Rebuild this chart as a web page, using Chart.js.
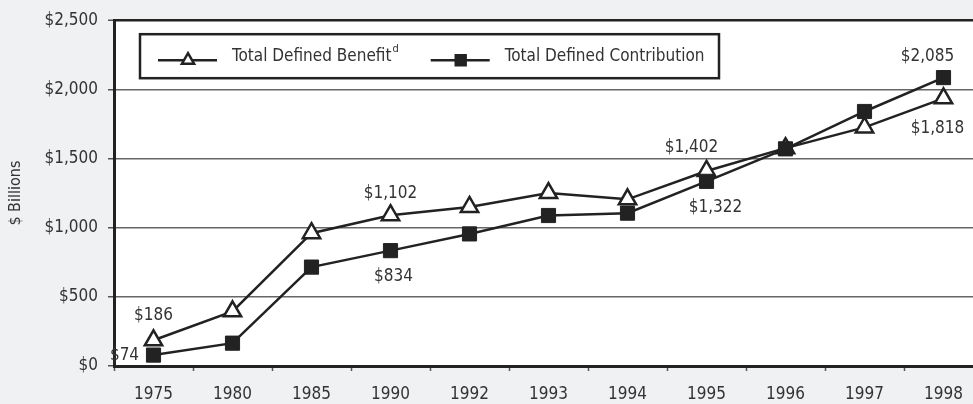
<!DOCTYPE html>
<html>
<head>
<meta charset="utf-8">
<script src="https://cdn.jsdelivr.net/npm/chart.js@4.4.1/dist/chart.umd.min.js"></script>
<style>
html, body { margin: 0; padding: 0; background: #f0f1f3; }
/* the plot runs on past the right edge of the picture in the original */
#clip { position: relative; width: 973px; height: 404px; overflow: hidden; }
#chart { display: block; width: 983px; height: 404px; }
</style>
</head>
<body>
<div id="clip"><canvas id="chart" width="983" height="404"></canvas></div>
<script>
const years = ['1975', '1980', '1985', '1990', '1992', '1993', '1994', '1995', '1996', '1997', '1998'];
const definedBenefit = [186, 395, 960, 1090, 1150, 1250, 1205, 1410, 1575, 1725, 1935];
const definedContribution = [79, 165, 715, 834, 955, 1088, 1105, 1335, 1570, 1840, 2085];
const yTicks = [0, 500, 1000, 1500, 2000, 2500];
// values printed next to some points in the original
const benefitNotes = ['$186', '', '', '$1,102', '', '', '', '$1,402', '', '', '$1,818'];
const contributionNotes = ['$74', '', '', '$834', '', '', '', '$1,322', '', '', '$2,085'];

const FONT = "'DejaVu Sans Condensed', 'DejaVu Sans', sans-serif";
const INK = '#222';
const TEXT = '#333';

function money(v) {
    return '$' + v.toLocaleString('en-US');
}

// white plot area on the grey page
const plotBg = {
    id: 'plotBg',
    beforeDraw(chart) {
        const a = chart.chartArea;
        chart.ctx.save();
        chart.ctx.fillStyle = '#fff';
        chart.ctx.fillRect(a.left, a.top, a.right - a.left, a.bottom - a.top);
        chart.ctx.restore();
    }
};

const valueNotes = {
    id: 'valueNotes',
    afterDatasetsDraw(chart, args, opts) {
        const ctx = chart.ctx;
        ctx.save();
        ctx.font = '17px ' + FONT;
        ctx.fillStyle = TEXT;
        ctx.textAlign = 'center';
        ctx.textBaseline = 'middle';
        chart.data.datasets.forEach((ds, i) => {
            const meta = chart.getDatasetMeta(i);
            const shifts = opts.shifts[i] || {};
            ds.notes.forEach((txt, j) => {
                if (!txt) return;
                const pt = meta.data[j];
                const d = shifts[j] || [0, -24];
                ctx.fillText(txt, pt.x + d[0], pt.y + d[1]);
            });
        });
        ctx.restore();
    }
};

// boxed legend inside the plot, with the superscript note mark
const boxLegend = {
    id: 'boxLegend',
    afterDraw(chart) {
        const ctx = chart.ctx;
        const a = chart.chartArea;
        const left = a.left + 26, top = a.top + 14, w = 579, h = 44;
        const cy = top + h / 2 + 4;
        ctx.save();
        ctx.fillStyle = '#fff';
        ctx.fillRect(left, top, w, h);
        ctx.strokeStyle = INK;
        ctx.lineWidth = 2.5;
        ctx.strokeRect(left, top, w, h);

        let x = left + 18;
        chart.data.datasets.forEach((ds) => {
            ctx.strokeStyle = INK;
            ctx.lineWidth = 2.5;
            ctx.beginPath();
            ctx.moveTo(x, cy);
            ctx.lineTo(x + 59, cy);
            ctx.stroke();
            // drawPoint fills and strokes with the current context styles
            ctx.fillStyle = ds.pointBackgroundColor;
            Chart.helpers.drawPoint(ctx, {
                pointStyle: ds.pointStyle,
                radius: 7,
                borderWidth: 2.5,
                rotation: 0
            }, x + 30, cy);
            ctx.fillStyle = TEXT;
            ctx.font = '17px ' + FONT;
            ctx.textAlign = 'left';
            ctx.textBaseline = 'middle';
            const tx = x + 74;
            ctx.fillText(ds.label, tx, cy - 4);
            let end = tx + ctx.measureText(ds.label).width;
            if (ds.sup) {
                ctx.font = '11px ' + FONT;
                ctx.fillText(ds.sup, end + 1, cy - 11);
                end += ctx.measureText(ds.sup).width + 1;
            }
            x = end + 32;
        });
        ctx.restore();
    }
};

const ctx = document.getElementById('chart').getContext('2d');
new Chart(ctx, {
    type: 'line',
    data: {
        labels: years,
        datasets: [{
            label: 'Total Defined Benefit',
            sup: 'd',
            data: definedBenefit,
            notes: benefitNotes,
            borderColor: INK,
            borderWidth: 2.5,
            pointStyle: 'triangle',
            pointRadius: 10,
            pointBackgroundColor: '#fff',
            pointBorderColor: INK,
            pointBorderWidth: 2.5,
            tension: 0,
            order: 1
        }, {
            label: 'Total Defined Contribution',
            data: definedContribution,
            notes: contributionNotes,
            borderColor: INK,
            borderWidth: 2.5,
            pointStyle: 'rect',
            pointRadius: 10,
            pointBackgroundColor: INK,
            pointBorderColor: INK,
            pointBorderWidth: 1,
            tension: 0,
            order: 0
        }]
    },
    options: {
        responsive: false,
        animation: false,
        layout: { autoPadding: false, padding: { top: 19, left: 0, right: 0, bottom: 0 } },
        plugins: {
            legend: { display: false },
            tooltip: { enabled: false },
            valueNotes: {
                shifts: [
                    { 0: [0, -25], 3: [0, -22], 7: [-15, -23], 10: [-6, 30] },
                    { 0: [-29, 1], 3: [3, 26], 7: [9, 26], 10: [-16, -21] }
                ]
            }
        },
        scales: {
            x: {
                offset: true,
                afterFit: (s) => { s.height = 38; },
                grid: {
                    display: true,
                    drawOnChartArea: false,
                    offset: true,
                    tickLength: 5,
                    tickColor: '#555',
                    tickWidth: 1.5
                },
                border: { color: INK, width: 3 },
                ticks: {
                    color: TEXT,
                    padding: 13,
                    font: { family: FONT, size: 17 }
                }
            },
            y: {
                min: 0,
                max: 2500,
                afterFit: (s) => { s.width = 114; },
                afterBuildTicks: (s) => { s.ticks = yTicks.map(v => ({ value: v })); },
                grid: {
                    color: (c) => c.tick && c.tick.value === 2500 ? INK : '#666',
                    lineWidth: (c) => c.tick && c.tick.value === 2500 ? 2.5 : 1.5,
                    tickLength: 6,
                    tickColor: '#555',
                    tickWidth: 1.5
                },
                border: { color: INK, width: 3 },
                ticks: {
                    color: TEXT,
                    padding: 10,
                    font: { family: FONT, size: 17 },
                    callback: (v) => money(v)
                },
                title: {
                    display: true,
                    text: '$ Billions',
                    color: TEXT,
                    padding: { top: 6, bottom: 0 },
                    font: { family: FONT, size: 16 }
                }
            }
        }
    },
    plugins: [plotBg, valueNotes, boxLegend]
});
</script>
</body>
</html>
